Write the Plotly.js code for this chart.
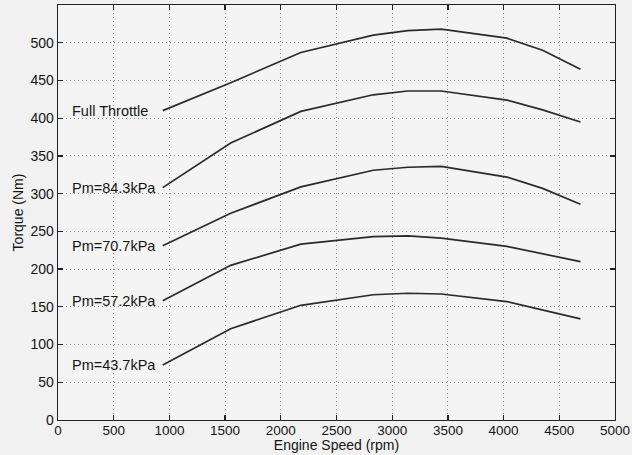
<!DOCTYPE html>
<html>
<head>
<meta charset="utf-8">
<script src="https://cdn.plot.ly/plotly-3.0.1.min.js"></script>
<style>html,body{margin:0;padding:0;background:#f1f1f1;}#chart{width:632px;height:455px;}</style>
</head>
<body>
<div id="chart"></div>
<script>
var speed = [940, 1550, 2180, 2830, 3140, 3440, 4030, 4350, 4690];
var fullThrottle = [410, 447, 487, 510, 516, 518, 506, 490, 465];
var pm843 = [308, 367, 409, 431, 436, 436, 424, 411, 395];
var pm707 = [231, 274, 309, 331, 335, 336, 322, 307, 286];
var pm572 = [158, 205, 233, 243, 244, 241, 230, 220, 210];
var pm437 = [73, 121, 152, 166, 168, 167, 157, 146, 134];
var seriesNames = ["Full Throttle", "Pm=84.3kPa", "Pm=70.7kPa", "Pm=57.2kPa", "Pm=43.7kPa"];
var seriesValues = [fullThrottle, pm843, pm707, pm572, pm437];
var xTicks = [0, 500, 1000, 1500, 2000, 2500, 3000, 3500, 4000, 4500, 5000];
var yTicks = [0, 50, 100, 150, 200, 250, 300, 350, 400, 450, 500];
var labelX = 110;

var FONT = 'Liberation Sans, Arial, Helvetica, sans-serif';
var traces = seriesValues.map(function (v, i) {
  return {x: speed, y: v, type: 'scatter', mode: 'lines', name: seriesNames[i],
    line: {color: '#2a2a2a', width: 1.7}, hoverinfo: 'skip'};
});
var annotations = seriesValues.map(function (v, i) {
  return {x: labelX, y: v[0], xref: 'x', yref: 'y', text: seriesNames[i], showarrow: false,
    xanchor: 'left', yanchor: 'middle', font: {family: FONT, size: 14.5, color: '#151515'}};
});
var axisCommon = {
  showline: true, linecolor: '#222', linewidth: 1.3, mirror: 'ticks',
  ticks: 'inside', ticklen: 5, tickcolor: '#222', tickwidth: 1.3,
  showgrid: true, gridcolor: '#909090', griddash: '1px,3px', gridwidth: 1,
  zeroline: false, tickfont: {family: FONT, size: 14, color: '#151515'}
};
var layout = {
  width: 632, height: 455,
  margin: {l: 58, r: 17, t: 5, b: 35},
  paper_bgcolor: '#f1f1f1', plot_bgcolor: '#f4f4f4',
  showlegend: false,
  xaxis: Object.assign({}, axisCommon, {range: [0, 5000], tickvals: xTicks,
    tickfont: {family: FONT, size: 13.5, color: '#151515'}, ticklabelstandoff: -3,
    title: {text: 'Engine Speed (rpm)', standoff: 0, font: {family: FONT, size: 14, color: '#151515'}}}),
  yaxis: Object.assign({}, axisCommon, {range: [0, 550], tickvals: yTicks,
    title: {text: 'Torque (Nm)', standoff: 3, font: {family: FONT, size: 14, color: '#151515'}}}),
  annotations: annotations
};
Plotly.newPlot('chart', traces, layout, {displayModeBar: false, staticPlot: true});
</script>
</body>
</html>
